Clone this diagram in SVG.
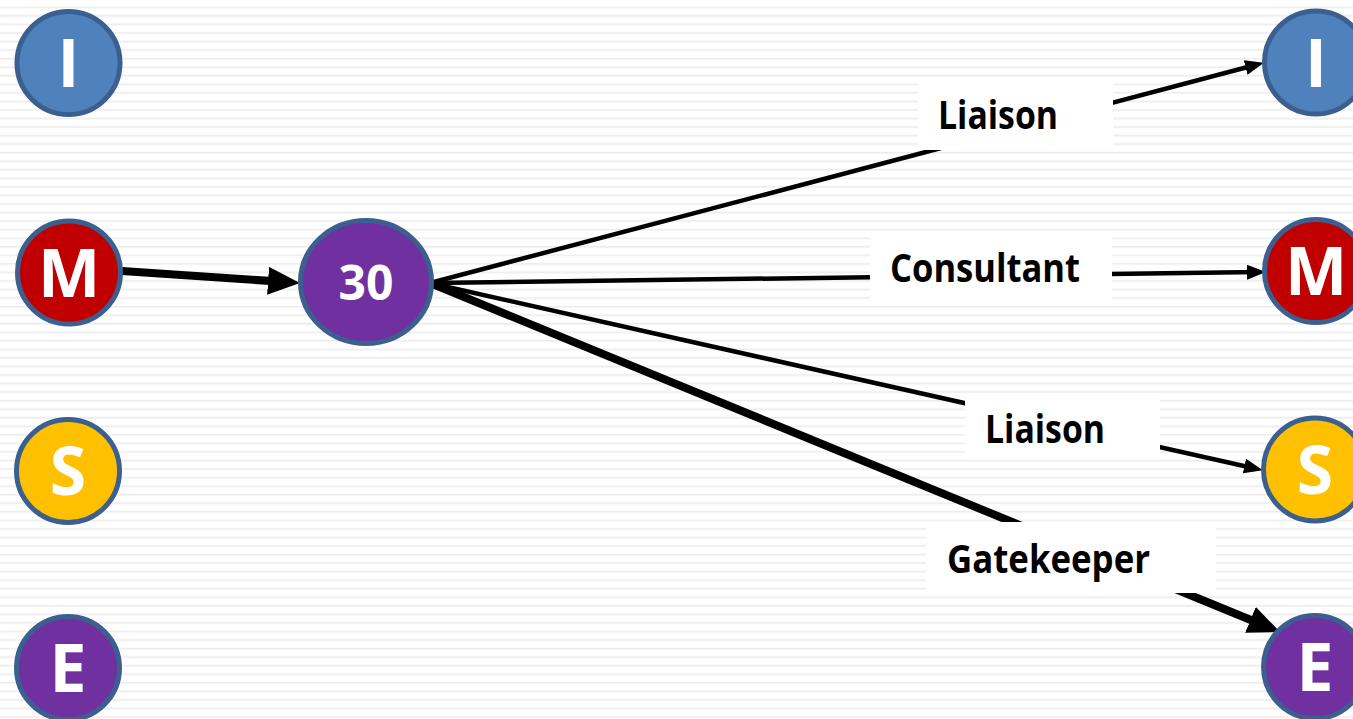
<svg xmlns="http://www.w3.org/2000/svg" width="1353" height="719" viewBox="0 0 1353 719">
<style>
.node{stroke:#3b6090;stroke-width:5}
.lt{font-family:"Open Sans","DejaVu Sans",sans-serif;font-weight:700;fill:#ffffff;text-anchor:middle}
.lbl{font-family:"Open Sans","DejaVu Sans",sans-serif;font-weight:700;fill:#000000;font-size:39px}
.box{fill:#ffffff}
.thin{stroke:#000;stroke-width:4.5;fill:none;marker-end:url(#ah)}
.thick{stroke:#000;stroke-width:8;fill:none;marker-end:url(#ahb)}
</style>
<defs>
<pattern id="stripes" x="0" y="0" width="20" height="8.55" patternUnits="userSpaceOnUse">
<rect x="0" y="0" width="20" height="8.55" fill="#ffffff"/>
<rect x="0" y="6.5" width="20" height="1.6" fill="#ececec"/>
</pattern>
<marker id="ah" markerUnits="userSpaceOnUse" markerWidth="20" markerHeight="16" refX="12" refY="7.5" orient="auto">
<path d="M0,0 L19,7.5 L0,15 z" fill="#000"/>
</marker>
<marker id="ahb" markerUnits="userSpaceOnUse" markerWidth="34" markerHeight="32" refX="22" refY="14" orient="auto">
<path d="M0,0 L32,14 L0,28 z" fill="#000"/>
</marker>
</defs>
<rect width="1353" height="719" fill="url(#stripes)"/>
<g id="connectors">
<line class="thick" x1="122" y1="271" x2="290" y2="282.3"/>
<line class="thin" x1="430" y1="283" x2="1257.2" y2="64.5"/>
<line class="thin" x1="430" y1="283" x2="1259" y2="272.1"/>
<line class="thin" x1="430" y1="283" x2="1256.1" y2="468.7"/>
<line class="thick" x1="430" y1="283" x2="1270.8" y2="628.2"/>
<g id="label-liaison-1"><rect class="box" x="918" y="82" width="195" height="68"/><text class="lbl" x="938" y="129" textLength="120" lengthAdjust="spacingAndGlyphs">Liaison</text></g>
<g id="label-consultant"><rect class="box" x="870" y="237" width="242" height="68"/><text class="lbl" x="890" y="282" textLength="190" lengthAdjust="spacingAndGlyphs">Consultant</text></g>
<g id="label-liaison-2"><rect class="box" x="965" y="393" width="195" height="67"/><text class="lbl" x="985" y="443" textLength="120" lengthAdjust="spacingAndGlyphs">Liaison</text></g>
<g id="label-gatekeeper"><rect class="box" x="926" y="522" width="290" height="71"/><text class="lbl" x="947" y="573" textLength="203" lengthAdjust="spacingAndGlyphs">Gatekeeper</text></g>
</g>
<g id="node-I-left"><circle class="node" cx="68.5" cy="63" r="51.5" fill="#4f81bd"/><text class="lt" x="68.5" y="87" font-size="66">I</text></g>
<g id="node-M-left"><circle class="node" cx="69" cy="272.5" r="51.5" fill="#c00000"/><text class="lt" x="69" y="296.5" font-size="66">M</text></g>
<g id="node-S-left"><circle class="node" cx="68" cy="471" r="51.5" fill="#ffc000"/><text class="lt" x="68" y="495" font-size="66">S</text></g>
<g id="node-E-left"><circle class="node" cx="68" cy="668" r="51.5" fill="#7030a0"/><text class="lt" x="68" y="692" font-size="66">E</text></g>
<g id="node-30"><ellipse class="node" cx="366" cy="282" rx="65.5" ry="61.5" fill="#7030a0"/><text class="lt" x="366" y="300" font-size="48">30</text></g>
<g id="node-I-right"><circle class="node" cx="1316" cy="62.5" r="51.5" fill="#4f81bd"/><text class="lt" x="1316" y="86.5" font-size="66">I</text></g>
<g id="node-M-right"><circle class="node" cx="1316" cy="271" r="51.5" fill="#c00000"/><text class="lt" x="1316" y="295" font-size="66">M</text></g>
<g id="node-S-right"><circle class="node" cx="1315" cy="469.5" r="51.5" fill="#ffc000"/><text class="lt" x="1315" y="493.5" font-size="66">S</text></g>
<g id="node-E-right"><circle class="node" cx="1315" cy="667" r="51.5" fill="#7030a0"/><text class="lt" x="1315" y="691" font-size="66">E</text></g>
</svg>
